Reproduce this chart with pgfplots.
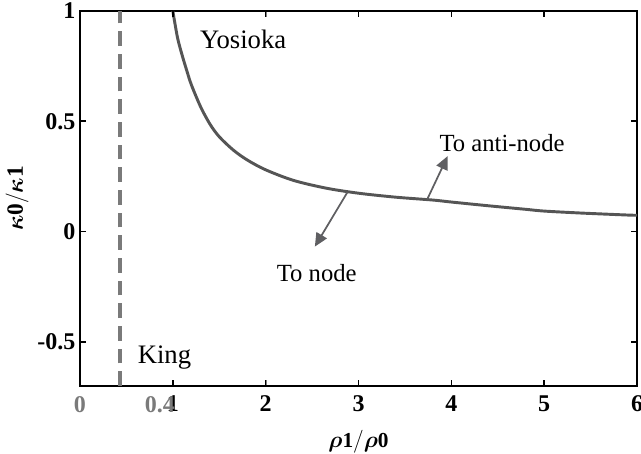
\documentclass[border=0pt]{standalone}
\usepackage{bm}
\usepackage{pgfplots}
\pgfplotsset{compat=1.18}
\usepackage{fontspec}
\setmainfont{Liberation Serif}
\usetikzlibrary{arrows.meta}
\definecolor{curvegray}{HTML}{555555}
\definecolor{dashgray}{HTML}{7A7A7A}
\definecolor{arrowgray}{HTML}{5F5F62}
\begin{document}
\begin{tikzpicture}[>={Triangle[length=10pt,width=9pt]}]
\begin{axis}[
  scale only axis,
  width=417.75pt, height=281.25pt,
  xmin=0, xmax=6, ymin=-0.7, ymax=1,
  axis line style={line width=1.3pt},
  clip=false,
  xtick={0,1,2,3,4,5,6},
  xticklabels={,1,2,3,4,5,6},
  ytick={-0.5,0,0.5,1},
  yticklabels={-0.5,0,0.5,1},
  tick label style={font=\bfseries\fontsize{18}{18}\selectfont},
  xticklabel style={yshift=-4pt},
  xlabel={$\bm{\rho}\mathbf{1/}\bm{\rho}\mathbf{0}$},
  ylabel={$\bm{\kappa}\mathbf{0/}\bm{\kappa}\mathbf{1}$},
  xlabel style={font=\fontsize{16}{16}\selectfont, at={(axis description cs:0.5,-0.149)}, anchor=center},
  ylabel style={font=\fontsize{17.5}{17.5}\selectfont, at={(axis description cs:-0.113,0.5)}, anchor=center},
  unbounded coords=jump,
]
\addplot[curvegray, line width=2.2pt, smooth] coordinates {
(1.0,1.0) (1.05,0.88) (1.1,0.80) (1.15,0.73) (1.2,0.665) (1.3,0.565) (1.4,0.487)
(1.5,0.43) (1.65,0.37) (1.8,0.325) (2.0,0.28) (2.3,0.232) (2.65,0.197)
(3.0,0.174) (3.4,0.156) (3.8,0.143) (4.0,0.134) (4.4,0.117) (4.8,0.101)
(5.0,0.093) (5.4,0.084) (5.9,0.075) (6.0,0.074)
};
\addplot[dashgray, line width=3pt, dash pattern=on 11pt off 6pt] coordinates {(0.43,-0.7) (0.43,1)};
\addplot[arrowgray, line width=1.3pt, ->] coordinates {(2.88,0.178) (2.53,-0.068)};
\addplot[arrowgray, line width=1.3pt, ->] coordinates {(3.74,0.146) (3.96,0.342)};
% tick marks (bottom, top, left, right), drawn as short segments
\addplot[black, line width=1.2pt] coordinates {
(1,-0.7) (1,-0.672) (nan,nan) (2,-0.7) (2,-0.672) (nan,nan)
(3,-0.7) (3,-0.672) (nan,nan) (4,-0.7) (4,-0.672) (nan,nan)
(5,-0.7) (5,-0.672) (nan,nan)
(1,1) (1,0.972) (nan,nan) (2,1) (2,0.972) (nan,nan)
(3,1) (3,0.972) (nan,nan) (4,1) (4,0.972) (nan,nan)
(5,1) (5,0.972) (nan,nan)
(0,-0.5) (0.066,-0.5) (nan,nan) (0,0) (0.066,0) (nan,nan)
(0,0.5) (0.066,0.5) (nan,nan) (0,1) (0.066,1) (nan,nan)
(6,-0.5) (5.934,-0.5) (nan,nan) (6,0) (5.934,0) (nan,nan)
(6,0.5) (5.934,0.5) (nan,nan) (6,1) (5.934,1)
};
\node[font=\fontsize{18.5}{18.5}\selectfont] at (axis cs:2.55,-0.19) {To node};
\node[anchor=west, font=\fontsize{18.5}{18.5}\selectfont, inner sep=0pt] at (axis cs:3.87,0.40) {To anti-node};
\node[anchor=west, font=\fontsize{20}{20}\selectfont, inner sep=0pt] at (axis cs:1.29,0.87) {Yosioka};
\node[anchor=west, font=\fontsize{20}{20}\selectfont, inner sep=0pt] at (axis cs:0.62,-0.57) {King};
\node[text=dashgray, font=\bfseries\fontsize{18}{18}\selectfont] at (axis cs:0,-0.783) {0};
\node[text=dashgray, font=\bfseries\fontsize{18}{18}\selectfont] at (axis cs:0.86,-0.783) {0.4};
\end{axis}
\pgfresetboundingbox
\path[use as bounding box] (-60pt,-50.25pt) rectangle (420.75pt,289.5pt);
\end{tikzpicture}
\end{document}
